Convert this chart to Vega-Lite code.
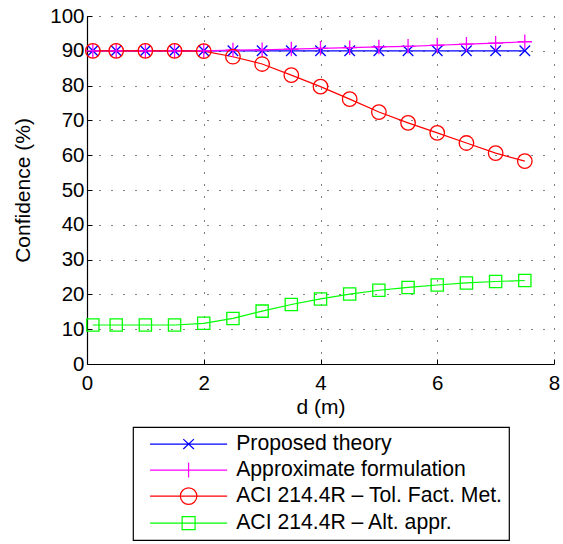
{
  "$schema": "https://vega.github.io/schema/vega-lite/v6.json",
  "width": 467,
  "height": 348,
  "autosize": {"type": "none"},
  "padding": {"left": 87, "top": 16, "right": 9, "bottom": 180},
  "background": "white",
  "datasets": {
    "confidence": [
      {"d": 0.1, "conf": 90, "series": "Proposed theory"},
      {"d": 0.5, "conf": 90, "series": "Proposed theory"},
      {"d": 1.0, "conf": 90, "series": "Proposed theory"},
      {"d": 1.5, "conf": 90, "series": "Proposed theory"},
      {"d": 2.0, "conf": 90, "series": "Proposed theory"},
      {"d": 2.5, "conf": 90, "series": "Proposed theory"},
      {"d": 3.0, "conf": 90, "series": "Proposed theory"},
      {"d": 3.5, "conf": 90, "series": "Proposed theory"},
      {"d": 4.0, "conf": 90, "series": "Proposed theory"},
      {"d": 4.5, "conf": 90, "series": "Proposed theory"},
      {"d": 5.0, "conf": 90, "series": "Proposed theory"},
      {"d": 5.5, "conf": 90, "series": "Proposed theory"},
      {"d": 6.0, "conf": 90, "series": "Proposed theory"},
      {"d": 6.5, "conf": 90, "series": "Proposed theory"},
      {"d": 7.0, "conf": 90, "series": "Proposed theory"},
      {"d": 7.5, "conf": 90, "series": "Proposed theory"},
      {"d": 0.1, "conf": 90, "series": "Approximate formulation"},
      {"d": 0.5, "conf": 90, "series": "Approximate formulation"},
      {"d": 1.0, "conf": 90, "series": "Approximate formulation"},
      {"d": 1.5, "conf": 90, "series": "Approximate formulation"},
      {"d": 2.0, "conf": 90, "series": "Approximate formulation"},
      {"d": 2.5, "conf": 90.2, "series": "Approximate formulation"},
      {"d": 3.0, "conf": 90.3, "series": "Approximate formulation"},
      {"d": 3.5, "conf": 90.5, "series": "Approximate formulation"},
      {"d": 4.0, "conf": 90.7, "series": "Approximate formulation"},
      {"d": 4.5, "conf": 90.9, "series": "Approximate formulation"},
      {"d": 5.0, "conf": 91.1, "series": "Approximate formulation"},
      {"d": 5.5, "conf": 91.3, "series": "Approximate formulation"},
      {"d": 6.0, "conf": 91.6, "series": "Approximate formulation"},
      {"d": 6.5, "conf": 91.9, "series": "Approximate formulation"},
      {"d": 7.0, "conf": 92.2, "series": "Approximate formulation"},
      {"d": 7.5, "conf": 92.6, "series": "Approximate formulation"},
      {"d": 0.1, "conf": 90, "series": "ACI 214.4R – Tol. Fact. Met."},
      {"d": 0.5, "conf": 90, "series": "ACI 214.4R – Tol. Fact. Met."},
      {"d": 1.0, "conf": 90, "series": "ACI 214.4R – Tol. Fact. Met."},
      {"d": 1.5, "conf": 90, "series": "ACI 214.4R – Tol. Fact. Met."},
      {"d": 2.0, "conf": 89.9, "series": "ACI 214.4R – Tol. Fact. Met."},
      {"d": 2.5, "conf": 88.3, "series": "ACI 214.4R – Tol. Fact. Met."},
      {"d": 3.0, "conf": 86.2, "series": "ACI 214.4R – Tol. Fact. Met."},
      {"d": 3.5, "conf": 83.0, "series": "ACI 214.4R – Tol. Fact. Met."},
      {"d": 4.0, "conf": 79.7, "series": "ACI 214.4R – Tol. Fact. Met."},
      {"d": 4.5, "conf": 76.1, "series": "ACI 214.4R – Tol. Fact. Met."},
      {"d": 5.0, "conf": 72.4, "series": "ACI 214.4R – Tol. Fact. Met."},
      {"d": 5.5, "conf": 69.3, "series": "ACI 214.4R – Tol. Fact. Met."},
      {"d": 6.0, "conf": 66.4, "series": "ACI 214.4R – Tol. Fact. Met."},
      {"d": 6.5, "conf": 63.5, "series": "ACI 214.4R – Tol. Fact. Met."},
      {"d": 7.0, "conf": 60.6, "series": "ACI 214.4R – Tol. Fact. Met."},
      {"d": 7.5, "conf": 58.3, "series": "ACI 214.4R – Tol. Fact. Met."},
      {"d": 0.1, "conf": 11.2, "series": "ACI 214.4R – Alt. appr."},
      {"d": 0.5, "conf": 11.2, "series": "ACI 214.4R – Alt. appr."},
      {"d": 1.0, "conf": 11.2, "series": "ACI 214.4R – Alt. appr."},
      {"d": 1.5, "conf": 11.2, "series": "ACI 214.4R – Alt. appr."},
      {"d": 2.0, "conf": 11.7, "series": "ACI 214.4R – Alt. appr."},
      {"d": 2.5, "conf": 13.1, "series": "ACI 214.4R – Alt. appr."},
      {"d": 3.0, "conf": 15.2, "series": "ACI 214.4R – Alt. appr."},
      {"d": 3.5, "conf": 17.1, "series": "ACI 214.4R – Alt. appr."},
      {"d": 4.0, "conf": 18.7, "series": "ACI 214.4R – Alt. appr."},
      {"d": 4.5, "conf": 20.1, "series": "ACI 214.4R – Alt. appr."},
      {"d": 5.0, "conf": 21.2, "series": "ACI 214.4R – Alt. appr."},
      {"d": 5.5, "conf": 22.0, "series": "ACI 214.4R – Alt. appr."},
      {"d": 6.0, "conf": 22.7, "series": "ACI 214.4R – Alt. appr."},
      {"d": 6.5, "conf": 23.3, "series": "ACI 214.4R – Alt. appr."},
      {"d": 7.0, "conf": 23.7, "series": "ACI 214.4R – Alt. appr."},
      {"d": 7.5, "conf": 24.0, "series": "ACI 214.4R – Alt. appr."}
    ]
  },
  "data": {"name": "confidence"},
  "encoding": {
    "x": {
      "field": "d",
      "type": "quantitative",
      "title": "d (m)",
      "scale": {"domain": [0, 8], "nice": false, "zero": false},
      "axis": {"values": [0, 2, 4, 6, 8], "labelPadding": 14, "titlePadding": 3}
    },
    "y": {
      "field": "conf",
      "type": "quantitative",
      "title": "Confidence (%)",
      "scale": {"domain": [0, 100], "nice": false},
      "axis": {"values": [0, 10, 20, 30, 40, 50, 60, 70, 80, 90, 100], "labelPadding": 8, "titlePadding": 16}
    }
  },
  "layer": [
    {
      "mark": {"type": "line", "strokeWidth": 1.2},
      "encoding": {
        "color": {
          "field": "series",
          "type": "nominal",
          "legend": {
            "title": null,
            "orient": "none",
            "legendX": 46,
            "legendY": 411,
            "direction": "vertical",
            "padding": 6.5,
            "fillColor": "white",
            "strokeColor": "black",
            "symbolSize": 324,
            "symbolStrokeWidth": 1.2,
            "symbolOpacity": 1,
            "symbolOffset": 38.5,
            "labelOffset": 37,
            "rowPadding": 4,
            "labelFont": "Liberation Sans",
            "labelFontSize": 21.2,
            "labelColor": "black",
            "labelLimit": 400
          },
          "scale": {
            "domain": ["Proposed theory", "Approximate formulation", "ACI 214.4R – Tol. Fact. Met.", "ACI 214.4R – Alt. appr."],
            "range": ["#0000ff", "#ff00ff", "#ff0000", "#00ff00"]
          }
        }
      }
    },
    {
      "transform": [{"filter": "datum.series === 'Proposed theory'"}],
      "mark": {"type": "point", "filled": false, "color": "#0000ff", "shape": "M-1,-1L1,1M-1,1L1,-1", "size": 110, "strokeWidth": 1.3, "opacity": 1}
    },
    {
      "transform": [{"filter": "datum.series === 'Approximate formulation'"}],
      "mark": {"type": "point", "filled": false, "color": "#ff00ff", "shape": "M-1,0H1M0,-1V1", "size": 210, "strokeWidth": 1.3, "opacity": 1}
    },
    {
      "transform": [{"filter": "datum.series === 'ACI 214.4R – Tol. Fact. Met.'"}],
      "mark": {"type": "point", "filled": false, "color": "#ff0000", "shape": "circle", "size": 210, "strokeWidth": 1.3, "opacity": 1}
    },
    {
      "transform": [{"filter": "datum.series === 'ACI 214.4R – Alt. appr.'"}],
      "mark": {"type": "point", "filled": false, "color": "#00ff00", "shape": "square", "size": 150, "strokeWidth": 1.3, "opacity": 1}
    },
    {
      "description": "Invisible marks that carry the combined line-and-marker legend symbols.",
      "mark": {"type": "point", "filled": false, "opacity": 0},
      "encoding": {
        "color": {
          "field": "series",
          "type": "nominal",
          "legend": {
            "title": null,
            "orient": "none",
            "legendX": 46,
            "legendY": 411,
            "direction": "vertical",
            "padding": 6.5,
            "fillColor": "white",
            "strokeColor": "black",
            "symbolSize": 324,
            "symbolStrokeWidth": 1.2,
            "symbolOpacity": 1,
            "symbolOffset": 38.5,
            "labelOffset": 37,
            "rowPadding": 4,
            "labelFont": "Liberation Sans",
            "labelFontSize": 21.2,
            "labelColor": "black",
            "labelLimit": 400
          },
          "scale": {
            "domain": ["Proposed theory", "Approximate formulation", "ACI 214.4R – Tol. Fact. Met.", "ACI 214.4R – Alt. appr."],
            "range": ["#0000ff", "#ff00ff", "#ff0000", "#00ff00"]
          }
        },
        "shape": {
          "field": "series",
          "type": "nominal",
          "legend": {
            "title": null,
            "orient": "none",
            "legendX": 46,
            "legendY": 411,
            "direction": "vertical",
            "padding": 6.5,
            "fillColor": "white",
            "strokeColor": "black",
            "symbolSize": 324,
            "symbolStrokeWidth": 1.2,
            "symbolOpacity": 1,
            "symbolOffset": 38.5,
            "labelOffset": 37,
            "rowPadding": 4,
            "labelFont": "Liberation Sans",
            "labelFontSize": 21.2,
            "labelColor": "black",
            "labelLimit": 400
          },
          "scale": {
            "domain": ["Proposed theory", "Approximate formulation", "ACI 214.4R – Tol. Fact. Met.", "ACI 214.4R – Alt. appr."],
            "range": [
              "M-4.28,0H4.28M-0.59,-0.55L0.59,0.55M-0.59,0.55L0.59,-0.55",
              "M-4.28,0H4.28M0,-0.83V0.83",
              "M-4.28,0H4.28M0.92,0A0.92,0.92,0,1,1,-0.92,0A0.92,0.92,0,1,1,0.92,0",
              "M-4.28,0H4.28M-0.72,-0.72H0.72V0.72H-0.72Z"
            ]
          }
        }
      }
    }
  ],
  "config": {
    "view": {"stroke": null},
    "axis": {
      "domainColor": "black",
      "domainWidth": 1.2,
      "tickColor": "black",
      "tickSize": -5,
      "tickWidth": 1,
      "grid": true,
      "gridColor": "black",
      "gridDash": [1, 11],
      "gridOpacity": 1,
      "gridWidth": 1,
      "labelFont": "Liberation Sans",
      "labelFontSize": 20.5,
      "labelColor": "black",
      "labelFlush": false,
      "labelOverlap": false,
      "titleFont": "Liberation Sans",
      "titleFontSize": 21,
      "titleFontWeight": "normal",
      "titleColor": "black"
    },
    "legend": {
      "strokeWidth": 1.2
    }
  }
}
